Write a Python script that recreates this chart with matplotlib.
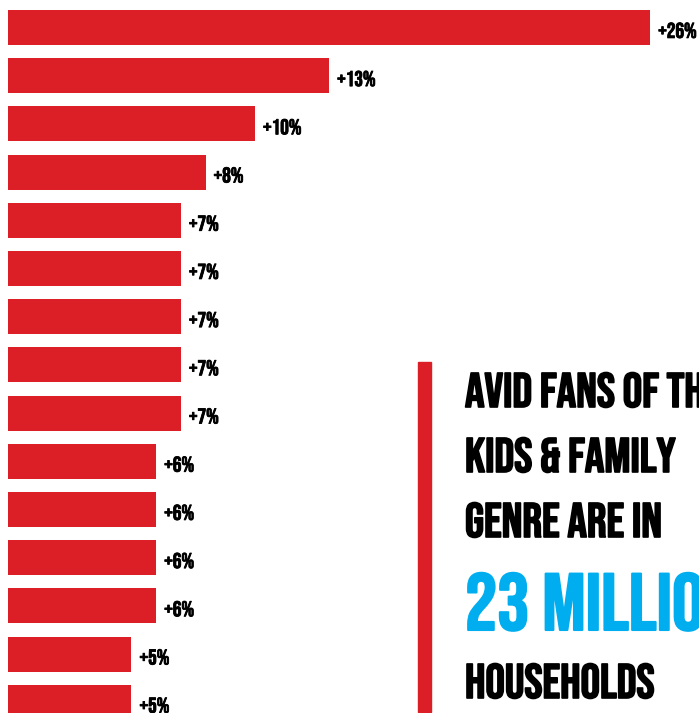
import matplotlib.pyplot as plt
from matplotlib.patches import Rectangle
import matplotlib.patheffects as pe

# growth in avid fans per genre (percent), top to bottom
values = [26, 13, 10, 8, 7, 7, 7, 7, 7, 6, 6, 6, 6, 5, 5]
labels = [f"+{v}%" for v in values]

headline = ["AVID FANS OF THE", "KIDS & FAMILY", "GENRE ARE IN"]
highlight = "23 MILLION"
footer = "HOUSEHOLDS"

RED = "#DC1F26"
BLUE = "#00AEEF"
FONT = ["Bebas Neue", "Oswald", "DejaVu Sans"]

W, H = 699, 713
fig = plt.figure(figsize=(W / 100, H / 100), dpi=100)
fig.patch.set_facecolor("white")

# bars: 1% ~ 24.7 px, row pitch ~ 48.2 px
px_per_pct = 24.7
pitch = 48.2
left = 8
ax = fig.add_axes([left / W, 0, 1 - left / W, 1])
ax.barh(range(len(values)), values, height=35 / pitch, color=RED)
ax.set_xlim(0, (W - left) / px_per_pct)
ax.set_ylim((H - 27.5) / pitch, -27.5 / pitch)
ax.axis("off")


def heavy(color, lw):
    # the original face is a touch heavier than Bebas Neue
    return [pe.withStroke(linewidth=lw, foreground=color)]


for i, (v, lab) in enumerate(zip(values, labels)):
    ax.text(v + 8 / px_per_pct, i + 0.05, lab, va="center", ha="left",
            fontsize=15.5, family=FONT, color="black",
            path_effects=heavy("black", 0.6))

# callout block on the right
fig.patches.append(Rectangle((418 / W, 1 - 712 / H), 13 / W, 350 / H,
                             transform=fig.transFigure, color=RED))

tx = 465 / W
for line, base in zip(headline, [407, 472, 537]):
    fig.text(tx, 1 - base / H, line, fontsize=35, family=FONT,
             va="baseline", ha="left", color="black",
             path_effects=heavy("black", 1.2))
fig.text(tx, 1 - 630 / H, highlight, fontsize=58, family=FONT,
         va="baseline", ha="left", color=BLUE,
         path_effects=heavy(BLUE, 1.5))
fig.text(tx, 1 - 698 / H, footer, fontsize=35, family=FONT,
         va="baseline", ha="left", color="black",
         path_effects=heavy("black", 1.2))

fig.savefig("out.png", dpi=100, facecolor="white")
